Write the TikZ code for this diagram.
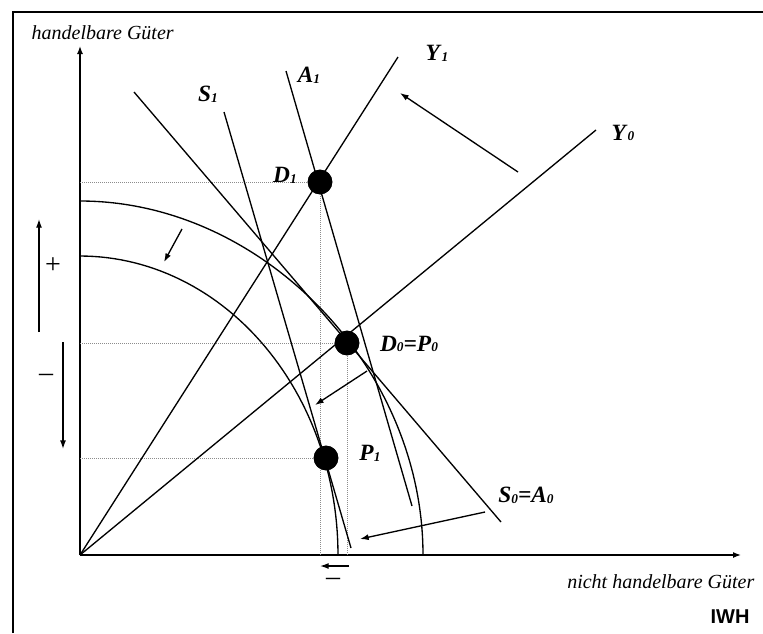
\documentclass[tikz,border=0pt]{standalone}
\usepackage{fontspec}
\setmainfont{Liberation Serif}
\newfontfamily\iwhfont{Liberation Sans}
\usetikzlibrary{arrows.meta}
\definecolor{GuideGray}{HTML}{8C8C8C}
\newcommand{\curvename}[2]{\textbf{\textit{#1}}\raisebox{-0.6pt}{\fontsize{10}{10}\selectfont\textbf{\textit{#2}}}}

\begin{document}
\begin{tikzpicture}[x=0.75pt,y=-0.75pt,
    curveline/.style={line width=1pt},
    axisline/.style={line width=1pt,-{Latex[length=6pt,width=4.5pt]}},
    guide/.style={GuideGray,line width=0.5pt,densely dotted},
    shiftarrow/.style={line width=1pt,-{Latex[length=6.5pt,width=4.5pt]}},
    eqdot/.style={circle,fill=black,inner sep=0pt,minimum size=18.5pt},
    curvelab/.style={font=\fontsize{17.5}{19}\selectfont},
    axislab/.style={font=\itshape\fontsize{15}{17}\selectfont},
    signlab/.style={font=\fontsize{21}{22}\selectfont}]
        \useasboundingbox (0,0) rectangle (763,633);
        \draw[line width=1.4pt] (13,633) -- (13,12) -- (763,12);

        \coordinate (O) at (80,555);
        \coordinate (ytip) at (80,46);
        \coordinate (xtip) at (741,555);
        \draw[axisline] (O) -- (ytip);
        \draw[axisline] (O) -- (xtip);

        \node[eqdot] (D1) at (320,182) {};
        \node[eqdot] (D0) at (347,343) {};
        \node[eqdot] (P1) at (326,458) {};

        \draw[guide] (D1 -| O) -- (D1.center) -- (D1 |- O);
        \draw[guide] (D0 -| O) -- (D0.center) -- (D0 |- O);
        \draw[guide] (P1 -| O) -- (P1.center);

        \coordinate (Y1end) at (398,57);
        \coordinate (Y0end) at (596,130);
        \coordinate (A1top) at (286,71);
        \coordinate (A1bot) at (412,506);
        \coordinate (S1top) at (224,112);
        \coordinate (S1bot) at (351,548);
        \coordinate (S0top) at (134,92);
        \coordinate (S0bot) at (501,522);
        \draw[curveline] (O) -- (Y1end);
        \draw[curveline] (O) -- (Y0end);
        \draw[curveline] (A1top) -- (A1bot);
        \draw[curveline] (S1top) -- (S1bot);
        \draw[curveline] (S0top) -- (S0bot);

        \coordinate (ppf0top) at (80,201);
        \coordinate (ppf0bot) at (423,555);
        \draw[curveline] (ppf0top) .. controls (262,201) and (423,367) .. (ppf0bot);
        \draw[curveline] plot[domain=0:90,samples=60]
          ({80+258*cos(\x)},{555-299*sin(\x)});

        \node[eqdot] at (D1) {};
        \node[eqdot] at (D0) {};
        \node[eqdot] at (P1) {};

        \coordinate (turnfrom) at (518,172);
        \coordinate (turnto) at (400,93);
        \coordinate (ppffrom) at (182,229);
        \coordinate (ppfto) at (164,262);
        \coordinate (midfrom) at (367,371);
        \coordinate (midto) at (315,405);
        \coordinate (lowfrom) at (485,512);
        \coordinate (lowto) at (360,539);
        \coordinate (axfrom) at (349,566);
        \coordinate (axto) at (320,566);
        \coordinate (upfrom) at (39,332);
        \coordinate (upto) at (39,219);
        \coordinate (downfrom) at (63,342);
        \coordinate (downto) at (63,449);
        \draw[shiftarrow] (turnfrom) -- (turnto);
        \draw[shiftarrow] (ppffrom) -- (ppfto);
        \draw[shiftarrow] (midfrom) -- (midto);
        \draw[shiftarrow] (lowfrom) -- (lowto);
        \draw[shiftarrow] (axfrom) -- (axto);
        \draw[shiftarrow] (upfrom) -- (upto);
        \draw[shiftarrow] (downfrom) -- (downto);

        \node[axislab,anchor=west] (ylab) at (27,33) {handelbare Güter};
        \node[axislab,anchor=east] (xlab) at (759,582) {nicht handelbare Güter};
        \node[font={\iwhfont\bfseries\fontsize{15}{17}\selectfont}] (iwh) at (730,617) {IWH};

        \node[curvelab] (Y1lab) at (437,53) {\curvename{Y}{1}};
        \node[curvelab] (Y0lab) at (623,133) {\curvename{Y}{0}};
        \node[curvelab] (A1lab) at (309,75) {\curvename{A}{1}};
        \node[curvelab] (S1lab) at (208,94) {\curvename{S}{1}};
        \node[curvelab] (D1lab) at (285,175) {\curvename{D}{1}};
        \node[curvelab] (D0lab) at (409,344) {\curvename{D}{0}\textbf{\textit{=}}\curvename{P}{0}};
        \node[curvelab] (P1lab) at (370,453) {\curvename{P}{1}};
        \node[curvelab] (S0lab) at (526,495) {\curvename{S}{0}\textbf{\textit{=}}\curvename{A}{0}};

        \node[signlab] (plus) at (53,266) {+};
        \node[signlab] (minusy) at (46,378) {–};
        \node[signlab] (minusx) at (333,582) {–};
      \end{tikzpicture}
\end{document}
